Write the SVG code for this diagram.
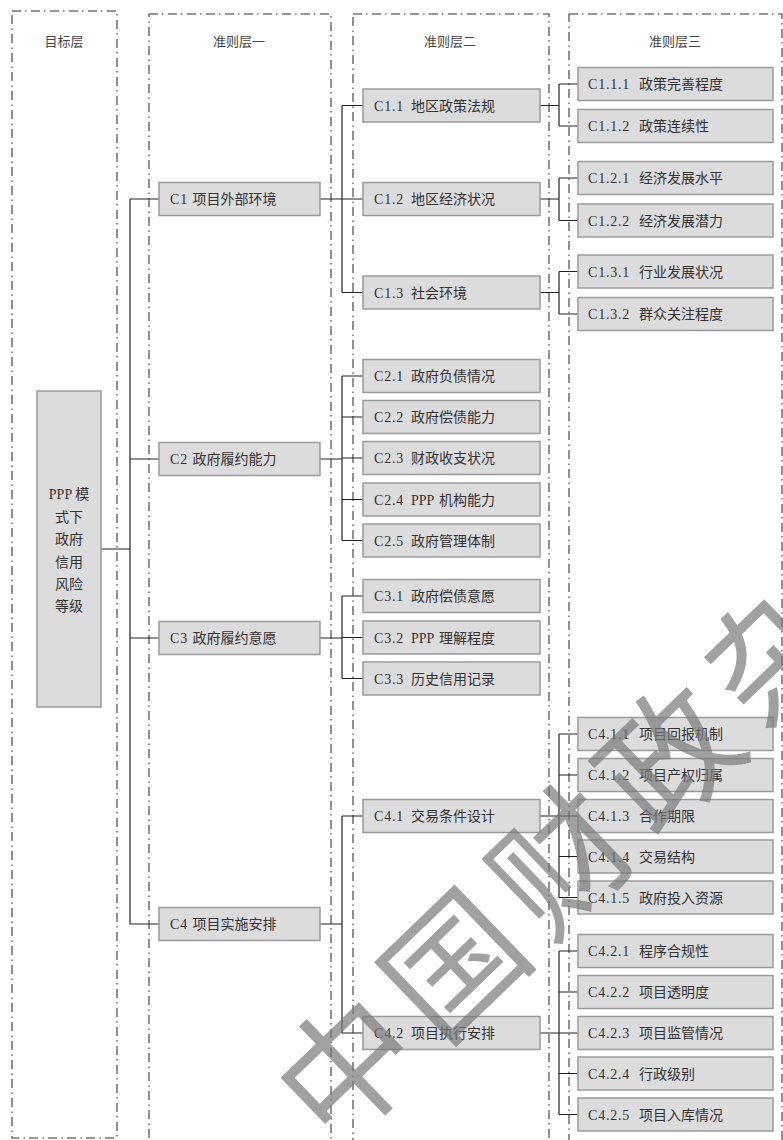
<svg xmlns="http://www.w3.org/2000/svg" width="783" height="1140" viewBox="0 0 783 1140">
<style>
.frame{fill:none;stroke:#757575;stroke-width:1.6;stroke-dasharray:9 4 1.5 4.5}
.box{fill:#dcdcdd;stroke:#9a9a9a;stroke-width:1.5}
.t{font-family:"Liberation Serif","Noto Sans CJK SC",serif;font-size:14px;fill:#333;letter-spacing:0.8px}
.c{font-family:"Noto Sans CJK SC","Liberation Serif",sans-serif;letter-spacing:0}
.p{letter-spacing:0}
.title{font-family:"Noto Sans CJK SC",sans-serif;font-size:13px;fill:#444;text-anchor:middle}
.goal{font-family:"Liberation Serif","Noto Sans CJK SC",serif;font-size:14px;fill:#333;text-anchor:middle}
.conn{fill:none;stroke:#222;stroke-width:1.2}
.wm{font-family:"Noto Sans CJK SC",sans-serif;font-size:135px;fill:#7a7a7a;opacity:0.7}
</style>
<rect width="783" height="1140" fill="#ffffff"/>
<g id="frames">
<rect class="frame" x="12" y="11" width="105" height="1127"/>
<rect class="frame" x="149" y="14" width="182" height="1140"/>
<rect class="frame" x="353" y="14" width="196" height="1140"/>
<rect class="frame" x="569" y="14" width="213" height="1140"/>
<text class="title" x="64" y="46">目标层</text>
<text class="title" x="239" y="46">准则层一</text>
<text class="title" x="450" y="46">准则层二</text>
<text class="title" x="675" y="46">准则层三</text>
</g>
<g id="connectors">
<path class="conn" d="M101 549H130M130 199V924M130 199H159M130 459H159M130 638H159M130 924H159"/>
<path class="conn" d="M320 199H342M342 105.5V292.5M342 105.5H363M342 199H363M342 292.5H363"/>
<path class="conn" d="M320 459H342M342 376V540.5M342 376H363M342 417H363M342 458H363M342 499.5H363M342 540.5H363"/>
<path class="conn" d="M320 638H342M342 596V678.5M342 596H363M342 637.5H363M342 678.5H363"/>
<path class="conn" d="M320 924H342M342 816V1033M342 816H363M342 1033H363"/>
<path class="conn" d="M540 105.5H559M559 84V126M559 84H578M559 126H578"/>
<path class="conn" d="M540 199H559M559 178V220.5M559 178H578M559 220.5H578"/>
<path class="conn" d="M540 292.5H559M559 271.5V314M559 271.5H578M559 314H578"/>
<path class="conn" d="M540 816H559M559 734V897.5M559 734H578M559 775H578M559 816H578M559 856.5H578M559 897.5H578"/>
<path class="conn" d="M540 1033H559M559 951V1114.5M559 951H578M559 992H578M559 1033H578M559 1073.5H578M559 1114.5H578"/>
</g>
<g id="goal">
<rect class="box" x="37" y="391" width="64" height="316"/>
<text class="goal" x="69" y="499">PPP 模</text>
<text class="goal" x="69" y="521.5">式下</text>
<text class="goal" x="69" y="544">政府</text>
<text class="goal" x="69" y="566.5">信用</text>
<text class="goal" x="69" y="589">风险</text>
<text class="goal" x="69" y="611">等级</text>
</g>
<g id="C1"><rect class="box" x="159" y="182.5" width="161" height="33"/><text class="t" y="204"><tspan x="170">C1</tspan> <tspan class="c" x="192.5">项目外部环境</tspan></text></g>
<g id="C2"><rect class="box" x="159" y="442.5" width="161" height="33"/><text class="t" y="464"><tspan x="170">C2</tspan> <tspan class="c" x="192.5">政府履约能力</tspan></text></g>
<g id="C3"><rect class="box" x="159" y="621.5" width="161" height="33"/><text class="t" y="643"><tspan x="170">C3</tspan> <tspan class="c" x="192.5">政府履约意愿</tspan></text></g>
<g id="C4"><rect class="box" x="159" y="907.5" width="161" height="33"/><text class="t" y="929"><tspan x="170">C4</tspan> <tspan class="c" x="192.5">项目实施安排</tspan></text></g>

<g id="C1.1"><rect class="box" x="363" y="89" width="177" height="33"/><text class="t" y="110.5"><tspan x="374">C1.1</tspan> <tspan class="c" x="411">地区政策法规</tspan></text></g>
<g id="C1.2"><rect class="box" x="363" y="182.5" width="177" height="33"/><text class="t" y="204"><tspan x="374">C1.2</tspan> <tspan class="c" x="411">地区经济状况</tspan></text></g>
<g id="C1.3"><rect class="box" x="363" y="276" width="177" height="33"/><text class="t" y="297.5"><tspan x="374">C1.3</tspan> <tspan class="c" x="411">社会环境</tspan></text></g>
<g id="C2.1"><rect class="box" x="363" y="359.5" width="177" height="33"/><text class="t" y="381"><tspan x="374">C2.1</tspan> <tspan class="c" x="411">政府负债情况</tspan></text></g>
<g id="C2.2"><rect class="box" x="363" y="400.5" width="177" height="33"/><text class="t" y="422"><tspan x="374">C2.2</tspan> <tspan class="c" x="411">政府偿债能力</tspan></text></g>
<g id="C2.3"><rect class="box" x="363" y="441.5" width="177" height="33"/><text class="t" y="463"><tspan x="374">C2.3</tspan> <tspan class="c" x="411">财政收支状况</tspan></text></g>
<g id="C2.4"><rect class="box" x="363" y="483" width="177" height="33"/><text class="t" y="504.5"><tspan x="374">C2.4</tspan> <tspan class="p" x="411">PPP</tspan> <tspan class="c" x="439">机构能力</tspan></text></g>
<g id="C2.5"><rect class="box" x="363" y="524" width="177" height="33"/><text class="t" y="545.5"><tspan x="374">C2.5</tspan> <tspan class="c" x="411">政府管理体制</tspan></text></g>
<g id="C3.1"><rect class="box" x="363" y="579.5" width="177" height="33"/><text class="t" y="601"><tspan x="374">C3.1</tspan> <tspan class="c" x="411">政府偿债意愿</tspan></text></g>
<g id="C3.2"><rect class="box" x="363" y="621" width="177" height="33"/><text class="t" y="642.5"><tspan x="374">C3.2</tspan> <tspan class="p" x="411">PPP</tspan> <tspan class="c" x="439">理解程度</tspan></text></g>
<g id="C3.3"><rect class="box" x="363" y="662" width="177" height="33"/><text class="t" y="683.5"><tspan x="374">C3.3</tspan> <tspan class="c" x="411">历史信用记录</tspan></text></g>
<g id="C4.1"><rect class="box" x="363" y="799.5" width="177" height="33"/><text class="t" y="821"><tspan x="374">C4.1</tspan> <tspan class="c" x="411">交易条件设计</tspan></text></g>
<g id="C4.2"><rect class="box" x="363" y="1016.5" width="177" height="33"/><text class="t" y="1038"><tspan x="374">C4.2</tspan> <tspan class="c" x="411">项目执行安排</tspan></text></g>

<g id="C1.1.1"><rect class="box" x="578" y="67.5" width="195" height="33"/><text class="t" y="89"><tspan x="588">C1.1.1</tspan> <tspan class="c" x="639">政策完善程度</tspan></text></g>
<g id="C1.1.2"><rect class="box" x="578" y="109.5" width="195" height="33"/><text class="t" y="131"><tspan x="588">C1.1.2</tspan> <tspan class="c" x="639">政策连续性</tspan></text></g>
<g id="C1.2.1"><rect class="box" x="578" y="161.5" width="195" height="33"/><text class="t" y="183"><tspan x="588">C1.2.1</tspan> <tspan class="c" x="639">经济发展水平</tspan></text></g>
<g id="C1.2.2"><rect class="box" x="578" y="204" width="195" height="33"/><text class="t" y="225.5"><tspan x="588">C1.2.2</tspan> <tspan class="c" x="639">经济发展潜力</tspan></text></g>
<g id="C1.3.1"><rect class="box" x="578" y="255" width="195" height="33"/><text class="t" y="276.5"><tspan x="588">C1.3.1</tspan> <tspan class="c" x="639">行业发展状况</tspan></text></g>
<g id="C1.3.2"><rect class="box" x="578" y="297.5" width="195" height="33"/><text class="t" y="319"><tspan x="588">C1.3.2</tspan> <tspan class="c" x="639">群众关注程度</tspan></text></g>
<g id="C4.1.1"><rect class="box" x="578" y="717.5" width="195" height="33"/><text class="t" y="739"><tspan x="588">C4.1.1</tspan> <tspan class="c" x="639">项目回报机制</tspan></text></g>
<g id="C4.1.2"><rect class="box" x="578" y="758.5" width="195" height="33"/><text class="t" y="780"><tspan x="588">C4.1.2</tspan> <tspan class="c" x="639">项目产权归属</tspan></text></g>
<g id="C4.1.3"><rect class="box" x="578" y="799.5" width="195" height="33"/><text class="t" y="821"><tspan x="588">C4.1.3</tspan> <tspan class="c" x="639">合作期限</tspan></text></g>
<g id="C4.1.4"><rect class="box" x="578" y="840" width="195" height="33"/><text class="t" y="861.5"><tspan x="588">C4.1.4</tspan> <tspan class="c" x="639">交易结构</tspan></text></g>
<g id="C4.1.5"><rect class="box" x="578" y="881" width="195" height="33"/><text class="t" y="902.5"><tspan x="588">C4.1.5</tspan> <tspan class="c" x="639">政府投入资源</tspan></text></g>
<g id="C4.2.1"><rect class="box" x="578" y="934.5" width="195" height="33"/><text class="t" y="956"><tspan x="588">C4.2.1</tspan> <tspan class="c" x="639">程序合规性</tspan></text></g>
<g id="C4.2.2"><rect class="box" x="578" y="975.5" width="195" height="33"/><text class="t" y="997"><tspan x="588">C4.2.2</tspan> <tspan class="c" x="639">项目透明度</tspan></text></g>
<g id="C4.2.3"><rect class="box" x="578" y="1016.5" width="195" height="33"/><text class="t" y="1038"><tspan x="588">C4.2.3</tspan> <tspan class="c" x="639">项目监管情况</tspan></text></g>
<g id="C4.2.4"><rect class="box" x="578" y="1057" width="195" height="33"/><text class="t" y="1078.5"><tspan x="588">C4.2.4</tspan> <tspan class="c" x="639">行政级别</tspan></text></g>
<g id="C4.2.5"><rect class="box" x="578" y="1098" width="195" height="33"/><text class="t" y="1119.5"><tspan x="588">C4.2.5</tspan> <tspan class="c" x="639">项目入库情况</tspan></text></g>

<g id="watermark">
<text class="wm" transform="translate(348,1070) rotate(-44)" x="-67" y="48" letter-spacing="14">中国财政杂志</text>
</g>
</svg>
